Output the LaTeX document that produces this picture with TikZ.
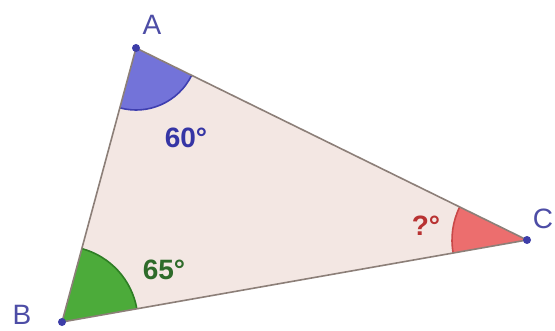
\documentclass[tikz,border=0pt]{standalone}
\usepackage{fontspec}
\setmainfont{Liberation Sans}
\usetikzlibrary{angles}
\definecolor{trifill}{HTML}{F3E7E3}
\definecolor{edge}{HTML}{8C7F78}
\definecolor{afill}{HTML}{7373D9}
\definecolor{aline}{HTML}{3F3FB0}
\definecolor{bfill}{HTML}{4CAB3A}
\definecolor{bline}{HTML}{2E7E25}
\definecolor{cfill}{HTML}{EC6E6E}
\definecolor{cline}{HTML}{C94848}
\definecolor{ptcol}{HTML}{3D3DA8}
\definecolor{lblcol}{HTML}{4D4DA6}
\definecolor{avalcol}{HTML}{3535A5}
\definecolor{bvalcol}{HTML}{2E6B2A}
\definecolor{cvalcol}{HTML}{B83232}
\tikzset{
  vlabel/.style={inner sep=0pt, text=lblcol, font=\fontsize{28}{30}\selectfont},
  avalue/.style={inner sep=0pt, font=\bfseries\fontsize{28}{30}\selectfont},
  vertexdot/.style={circle, fill=ptcol, inner sep=0pt, minimum size=8pt},
  sector/.style={line width=1.6pt}
}
\begin{document}
\begin{tikzpicture}[x=1pt,y=1pt]
\useasboundingbox[fill=white] (0,0) rectangle (555,330);
\coordinate (A) at (136,282);
\coordinate (B) at (62,8);
\coordinate (C) at (527,90);
\fill[trifill] (A) -- (B) -- (C) -- cycle;
\pic[sector, fill=afill, draw=aline, angle radius=62pt] {angle = B--A--C};
\pic[sector, fill=bfill, draw=bline, angle radius=76pt] {angle = C--B--A};
\pic[sector, fill=cfill, draw=cline, angle radius=75pt] {angle = A--C--B};
\draw[edge, line width=1.6pt, line join=round] (A) -- (B) -- (C) -- cycle;
\node[vertexdot] (pA) at (A) {};
\node[vertexdot] (pB) at (B) {};
\node[vertexdot] (pC) at (C) {};
\node[vlabel] (lA) at (152,305) {A};
\node[vlabel] (lB) at (22,15) {B};
\node[vlabel] (lC) at (543,111) {C};
\node[avalue, text=avalcol] (vA) at (186,192) {60°};
\node[avalue, text=bvalcol] (vB) at (164,60) {65°};
\node[avalue, text=cvalcol] (vC) at (426,104) {?°};
\end{tikzpicture}
\end{document}
